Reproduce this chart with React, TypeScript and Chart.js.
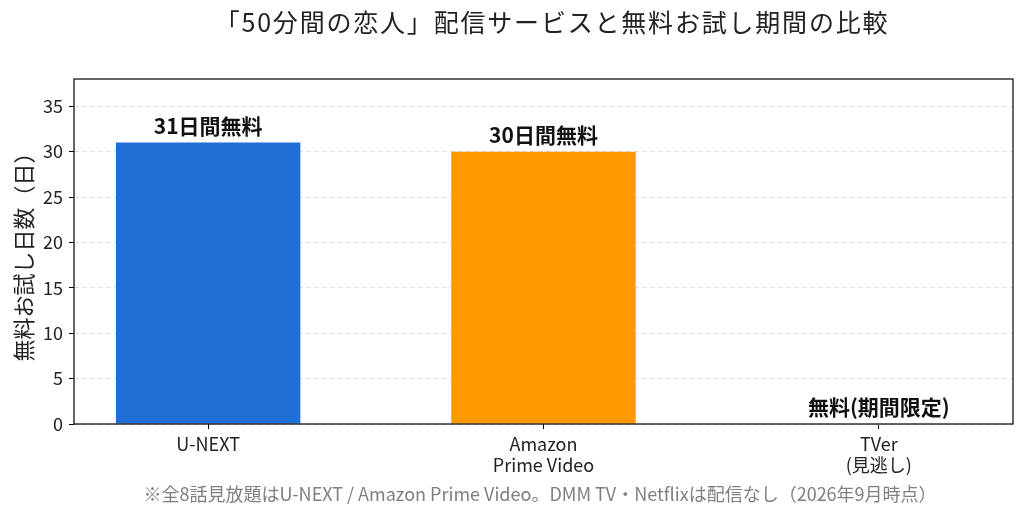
import { useEffect, useRef } from "react"
import { Chart, registerables } from "chart.js"

Chart.register(...registerables)

const categories = [["U-NEXT"], ["Amazon", "Prime Video"], ["TVer", "(見逃し)"]]
const trialDays = [31, 30, 0]
const barLabels = ["31日間無料", "30日間無料", "無料(期間限定)"]
const barColors = ["#1f6fd6", "#ff9900", "#9e9e9e"]
const yTicks = [0, 5, 10, 15, 20, 25, 30, 35]

const titleText = "「50分間の恋人」配信サービスと無料お試し期間の比較"
const yTitle = "無料お試し日数（日）"
const footnote = "※全8話見放題はU-NEXT / Amazon Prime Video。DMM TV・Netflixは配信なし（2026年9月時点）"

const FONT = "'Noto Sans CJK JP', 'Noto Sans', sans-serif"

export default function App() {
  const chartRef = useRef<HTMLCanvasElement>(null)
  const chartInstance = useRef<Chart | null>(null)

  useEffect(() => {
    if (!chartRef.current) return
    const ctx = chartRef.current.getContext("2d")
    if (!ctx) return

    if (chartInstance.current) {
      chartInstance.current.destroy()
    }

    // title, footnote, frame and value labels
    const decor = {
      id: "decor",
      afterDatasetsDraw(chart: any) {
        const c = chart.ctx
        const meta = chart.getDatasetMeta(0)
        c.save()
        c.fillStyle = "#111"
        c.font = `bold 21px ${FONT}`
        c.textAlign = "center"
        c.textBaseline = "middle"
        meta.data.forEach((bar: any, i: number) => {
          c.fillText(barLabels[i], bar.x, bar.y - 17)
        })
        c.restore()
      },
      afterDraw(chart: any) {
        const c = chart.ctx
        const { left, right, top, bottom } = chart.chartArea
        c.save()
        c.strokeStyle = "#000"
        c.lineWidth = 1.2
        c.strokeRect(left, top, right - left, bottom - top)

        c.textAlign = "center"
        c.textBaseline = "middle"
        c.fillStyle = "#222"
        c.font = `25px ${FONT}`
        c.letterSpacing = "1.8px"
        c.fillText(titleText, 552, 22)
        c.letterSpacing = "0px"

        c.fillStyle = "#7f7f7f"
        c.font = `18px ${FONT}`
        c.fillText(footnote, 540, 494)
        c.restore()
      },
    }

    chartInstance.current = new Chart(ctx, {
      type: "bar",
      data: {
        datasets: [
          {
            data: trialDays.map((v, i) => ({ x: i, y: v })),
            backgroundColor: barColors,
            borderWidth: 0,
            categoryPercentage: 1,
            barPercentage: 0.55,
          },
        ],
      },
      options: {
        animation: false,
        responsive: true,
        maintainAspectRatio: false,
        layout: { padding: { top: 79, right: 13, bottom: 0, left: 0 } },
        plugins: {
          legend: { display: false },
          tooltip: { enabled: false },
        },
        scales: {
          x: {
            type: "linear",
            min: -0.4,
            max: 2.4,
            offset: false,
            afterBuildTicks: (axis: any) => {
              axis.ticks = categories.map((_, i) => ({ value: i }))
            },
            afterFit: (axis: any) => {
              axis.height = 92
            },
            grid: {
              offset: false,
              drawOnChartArea: false,
              drawTicks: true,
              tickLength: 5,
              tickColor: "#000",
            },
            border: { display: false },
            ticks: {
              padding: 4,
              color: "#222",
              font: { family: FONT, size: 18, lineHeight: 1.2 },
              maxRotation: 0,
              autoSkip: false,
              callback: (value: any) => categories[Math.round(Number(value))] ?? "",
            },
          },
          y: {
            min: 0,
            max: 38,
            afterBuildTicks: (axis: any) => {
              axis.ticks = yTicks.map((v) => ({ value: v }))
            },
            afterFit: (axis: any) => {
              axis.width = 74
            },
            grid: {
              color: "#dddddd",
              lineWidth: 1,
              tickLength: 5,
              tickColor: "#000",
              tickBorderDash: [],
            },
            border: { display: false, dash: [5, 3] },
            ticks: {
              padding: 6,
              color: "#222",
              font: { family: FONT, size: 18 },
            },
            title: {
              display: true,
              text: yTitle,
              color: "#222",
              font: { family: FONT, size: 22 },
              padding: { top: 10, bottom: 0 },
            },
          },
        },
      },
      plugins: [decor],
    })

    return () => {
      if (chartInstance.current) {
        chartInstance.current.destroy()
        chartInstance.current = null
      }
    }
  }, [])

  return (
    <div style={{ position: "fixed", left: 0, top: 0, width: 1026, height: 516, background: "#fff" }}>
      <canvas ref={chartRef} aria-label="配信サービスと無料お試し期間の比較" role="img"></canvas>
    </div>
  )
}
